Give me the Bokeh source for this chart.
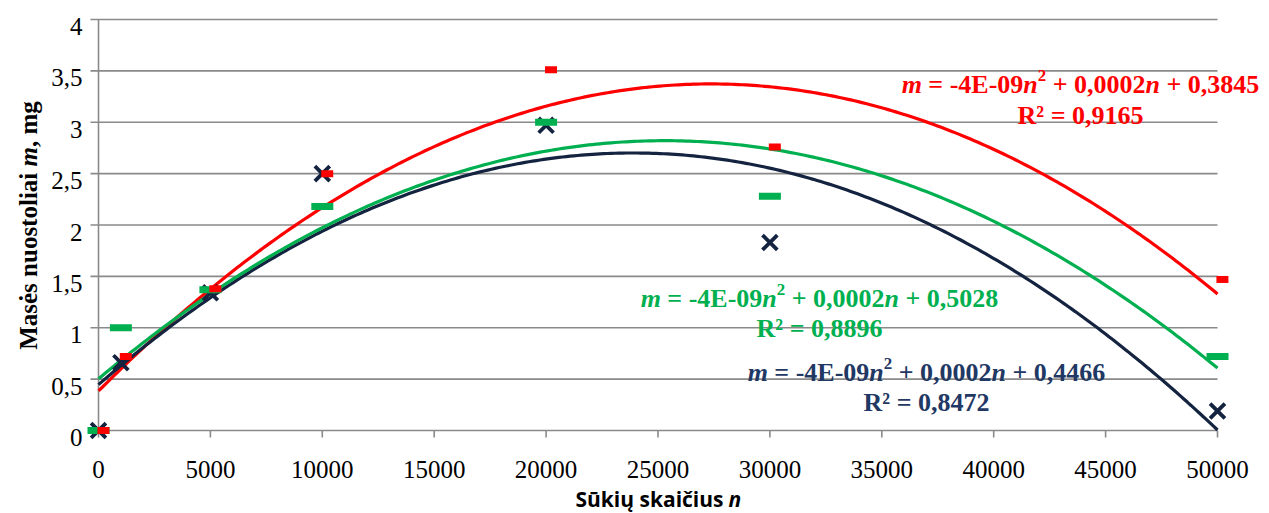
import numpy as np
from bokeh.plotting import figure
from bokeh.models import Label, Range1d
from bokeh.core.properties import value
from bokeh.transform import dodge
from bokeh.embed import file_html
from bokeh.resources import INLINE

# Mass loss m (mg) against number of revolutions n for three test series
n_values = [0, 1000, 5000, 10000, 20000, 30000, 50000]
mass_red = [0, 0.72, 1.38, 2.50, 3.51, 2.76, 1.47]
mass_green = [0, 1.00, 1.37, 2.18, 3.00, 2.28, 0.72]
mass_navy = [0, 0.66, 1.34, 2.50, 2.97, 1.83, 0.19]

# Quadratic trendline labels (coefficients as printed, intercepts and R²)
quad_coef_label = "-4E-09"
lin_coef_label = "0,0002"
intercept_red = 0.3845
intercept_green = 0.5028
intercept_navy = 0.4466
r2_red = 0.9165
r2_green = 0.8896
r2_navy = 0.8472

y_tick_values = [0, 0.5, 1, 1.5, 2, 2.5, 3, 3.5, 4]
y_tick_labels = ["0", "0,5", "1", "1,5", "2", "2,5", "3", "3,5", "4"]
x_tick_values = [0, 5000, 10000, 15000, 20000, 25000, 30000, 35000, 40000, 45000, 50000]
x_tick_labels = [str(v) for v in x_tick_values]

RED = "#FF0000"
GREEN = "#00B050"
NAVY = "#14233F"
NAVY_TEXT = "#1F3864"
GRID = "#8A8A8A"
SERIF = "Liberation Serif"

# ---- page geometry (pixels); the frame covers the whole canvas ----
W, H = 1269, 513
X0_PX, X1_PX = 98, 1217          # n = 0 and n = 50000
Y0_PX, Y4_PX = 430, 19           # m = 0 and m = 4
SX = (X1_PX - X0_PX) / 50000.0
SY = (Y0_PX - Y4_PX) / 4.0


def px_to_n(px):
    return (px - X0_PX) / SX


def py_to_m(py):
    return (Y0_PX - py) / SY


p = figure(width=W, height=H, output_backend="svg", toolbar_location=None,
           x_range=Range1d(px_to_n(0), px_to_n(W)),
           y_range=Range1d(py_to_m(H), py_to_m(0)),
           x_axis_location=None, y_axis_location=None,
           min_border=0)
p.outline_line_color = None
p.xgrid.visible = False
p.ygrid.visible = False
p.background_fill_color = "white"
p.border_fill_color = "white"

# horizontal gridlines with their left tick marks (the line at 0 is the n axis)
grid_left = px_to_n(90)
p.segment(x0=[grid_left] * len(y_tick_values), x1=[x_tick_values[-1]] * len(y_tick_values),
          y0=y_tick_values, y1=y_tick_values, line_color=GRID, line_width=1.6)
# m axis
p.segment(x0=[0], x1=[0], y0=[y_tick_values[0]], y1=[y_tick_values[-1]],
          line_color=GRID, line_width=1.6)
# n axis tick marks
p.segment(x0=x_tick_values, x1=x_tick_values, y0=[0] * len(x_tick_values),
          y1=[py_to_m(Y0_PX + 7)] * len(x_tick_values), line_color=GRID, line_width=1.6)

# tick labels
p.text(x=x_tick_values, y=[py_to_m(469)] * len(x_tick_values), text=x_tick_labels,
       text_font=value(SERIF), text_font_size="25px", text_color="black",
       text_align="center", text_baseline="alphabetic")
p.text(x=[px_to_n(82)] * len(y_tick_values), y=[v - 7 / SY for v in y_tick_values],
       text=y_tick_labels, text_font=value(SERIF), text_font_size="25px",
       text_color="black", text_align="right", text_baseline="alphabetic")


# ---- quadratic trendlines through the printed intercepts ----
def fit_with_intercept(n, m, c):
    n = np.asarray(n, float)
    r = np.asarray(m, float) - c
    A = np.column_stack([n ** 2, n])
    (a, b), *_ = np.linalg.lstsq(A, r, rcond=None)
    return a, b


n_fine = np.linspace(0, x_tick_values[-1], 300)
for masses, c0, col in [(mass_red, intercept_red, RED),
                        (mass_navy, intercept_navy, NAVY),
                        (mass_green, intercept_green, GREEN)]:
    a, b = fit_with_intercept(n_values, masses, c0)
    p.line(n_fine, a * n_fine ** 2 + b * n_fine + c0, line_color=col, line_width=3.2)

# ---- measured points ----
p.scatter(n_values, mass_navy, marker="x", size=21, line_color=NAVY, line_width=3.8)
p.rect(n_values, mass_green, width=22, height=7, width_units="screen",
       height_units="screen", fill_color=GREEN, line_color=None)
p.rect(dodge("x", 220, range=p.x_range), "y", source=dict(x=n_values, y=mass_red),
       width=12, height=7, width_units="screen", height_units="screen",
       fill_color=RED, line_color=None)

# ---- equation labels ----
TB = {" ": 250, "=": 570, "+": 570, "-": 333, ",": 250, "E": 667, "R": 722, "²": 300}
TBI = {"m": 778, "n": 556}
FS = 26


def piece_width(text, kind, fs=FS):
    if kind == "bi":
        return sum(TBI.get(ch, 556) for ch in text) / 1000 * fs
    size = fs * 0.65 if kind == "sup" else fs
    return sum(TB.get(ch, 500) for ch in text) / 1000 * size


def fmt(v):
    return f"{v:.4f}".replace(".", ",")


def add_piece(x_px, y_px, text, kind, color, angle=0.0, font=SERIF, size=FS):
    style = {"bi": "bold italic", "b": "bold", "sup": "bold"}[kind]
    p.add_layout(Label(x=px_to_n(x_px), y=py_to_m(y_px), text=text, angle=angle,
                       text_font=font, text_font_style=style,
                       text_font_size=f"{size:.1f}px", text_color=color,
                       text_align="left", text_baseline="alphabetic"))


def equation(cx, base1, base2, c0, r2, color):
    pieces = [("m", "bi"), (f" = {quad_coef_label}", "b"), ("n", "bi"), ("2", "sup"),
              (f" + {lin_coef_label}", "b"), ("n", "bi"), (f" + {fmt(c0)}", "b")]
    total = sum(piece_width(t, k) for t, k in pieces)
    x = cx - total / 2
    for t, k in pieces:
        lead = len(t) - len(t.lstrip(" "))
        size = FS * 0.65 if k == "sup" else FS
        lift = FS * 0.36 if k == "sup" else 0
        add_piece(x + piece_width(" " * lead, k), base1 - lift, t.strip(" "), k, color, size=size)
        x += piece_width(t, k)
    p.add_layout(Label(x=px_to_n(cx), y=py_to_m(base2), text=f"R² = {fmt(r2)}",
                       text_font=SERIF, text_font_style="bold",
                       text_font_size=f"{FS}px", text_color=color,
                       text_align="center", text_baseline="alphabetic"))


equation(1080, 84, 115, intercept_red, r2_red, RED)
equation(819, 298, 328, intercept_green, r2_green, GREEN)
equation(926, 372, 402, intercept_navy, r2_navy, NAVY_TEXT)

# ---- axis titles ----
# vertical title, read bottom to top, with italic m
YS = 25
ylab_pieces = [("Masės nuostoliai", "b", 7084, 250), ("m", "bi", 778, 0),
               (",", "b", 250, 250), ("mg", "b", 1333, 0)]
total_w = sum(w + gap for _, _, w, gap in ylab_pieces) / 1000 * YS
y_cur = 225 + total_w / 2
for t, k, w, gap in ylab_pieces:
    add_piece(28, y_cur, t, k, "black", angle=np.pi / 2, size=YS)
    y_cur -= (w + gap) / 1000 * YS

# horizontal title with italic n
join_px = 728
p.add_layout(Label(x=px_to_n(join_px - 5), y=py_to_m(498), text="Sūkių skaičius",
                   text_font="Open Sans", text_font_style="bold", text_font_size="21px",
                   text_color="black", text_align="right", text_baseline="alphabetic"))
p.add_layout(Label(x=px_to_n(join_px), y=py_to_m(498), text="n",
                   text_font="Open Sans", text_font_style="bold italic", text_font_size="21px",
                   text_color="black", text_align="left", text_baseline="alphabetic"))

open("out.html", "w").write(file_html(p, INLINE))
